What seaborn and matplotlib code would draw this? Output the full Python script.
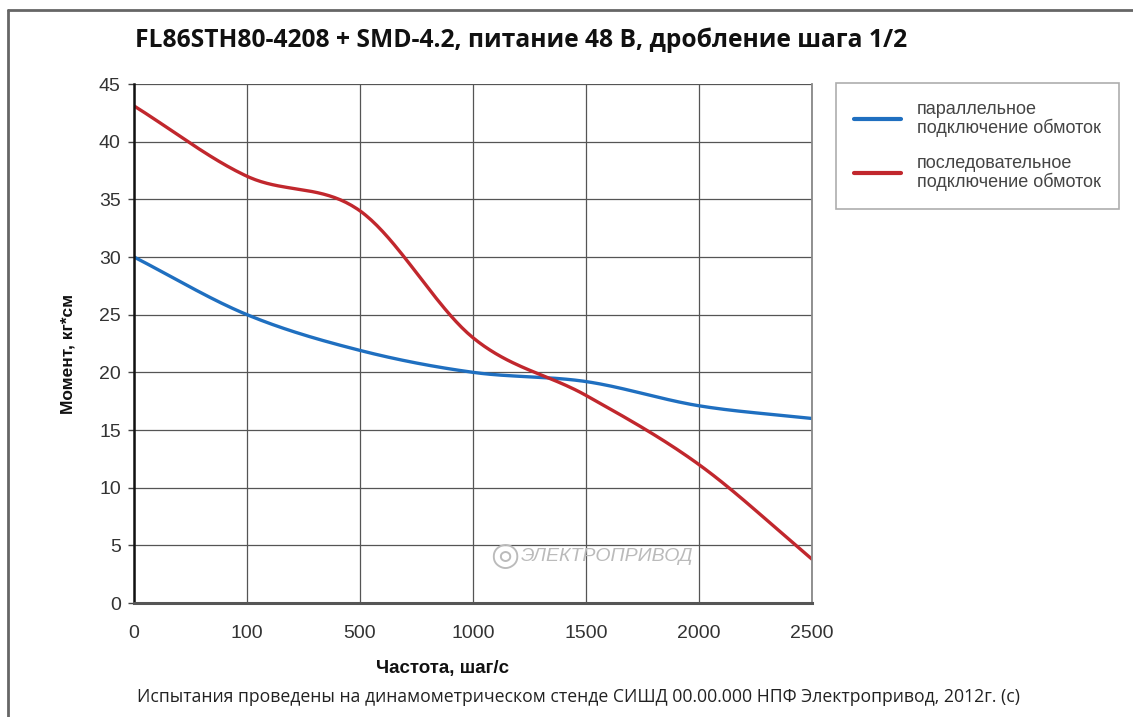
import matplotlib
matplotlib.use('Agg')
import matplotlib.pyplot as plt
from matplotlib.lines import Line2D
import seaborn as sns
import numpy as np
import pandas as pd

# data
freq_labels = ["0", "100", "500", "1000", "1500", "2000", "2500"]
torque_parallel = [30.0, 25.0, 21.9, 20.0, 19.2, 17.1, 16.0]
torque_series = [43.1, 37.0, 34.0, 23.0, 18.0, 12.0, 3.8]
series_names = ["параллельное\nподключение обмоток", "последовательное\nподключение обмоток"]
colors = ["#1f6fc0", "#c1272d"]

sns.set_theme(style="white")
OPEN = ['Open Sans', 'DejaVu Sans']
plt.rcParams['font.family'] = ['Liberation Sans', 'DejaVu Sans']


def smooth(y, n=40):
    # catmull-rom curve through the read points (for drawing only)
    y = np.asarray(y, float)
    p = np.concatenate([[2 * y[0] - y[1]], y, [2 * y[-1] - y[-2]]])
    xs, ys = [], []
    for i in range(len(y) - 1):
        t = np.linspace(0, 1, n, endpoint=False)
        p0, p1, p2, p3 = p[i], p[i + 1], p[i + 2], p[i + 3]
        v = 0.5 * (2 * p1 + (-p0 + p2) * t + (2 * p0 - 5 * p1 + 4 * p2 - p3) * t ** 2
                   + (-p0 + 3 * p1 - 3 * p2 + p3) * t ** 3)
        xs.append(i + t)
        ys.append(v)
    xs.append([len(y) - 1])
    ys.append([y[-1]])
    return np.concatenate(xs), np.concatenate(ys)


rows = []
for name, vals in zip(series_names, [torque_parallel, torque_series]):
    xs, ys = smooth(vals)
    rows.append(pd.DataFrame({"x": xs, "y": ys, "series": name}))
df = pd.concat(rows)

fig = plt.figure(figsize=(11.33, 7.17), dpi=100)
ax = fig.add_axes([134 / 1133, 1 - 603 / 717, 678 / 1133, 519 / 717])

sns.lineplot(data=df, x="x", y="y", hue="series", palette=colors, lw=2.4,
             sort=False, ax=ax, legend=True)

ax.set_xlim(0, len(freq_labels) - 1)
ax.set_ylim(0, 45)
ax.set_xticks(range(len(freq_labels)))
ax.set_xticklabels(freq_labels, fontsize=14, color="#333333")
ax.set_yticks(range(0, 46, 5))
ax.tick_params(axis='y', labelsize=14, labelcolor="#333333", length=4.5, width=1,
               color="#444444", left=True, pad=5)
ax.tick_params(axis='x', length=0, pad=16)
ax.grid(True, color="#555555", lw=0.9)
ax.spines["top"].set_visible(False)
ax.spines["right"].set_color("#888888")
ax.spines["right"].set_linewidth(1.3)
ax.spines["left"].set_color("#111111")
ax.spines["left"].set_linewidth(1.8)
ax.spines["bottom"].set_color("#555555")
ax.spines["bottom"].set_linewidth(2.2)

ax.set_xlabel("Частота, шаг/с", fontsize=13.5, fontweight="bold", color="#111111")
ax.xaxis.set_label_coords((443 - 134) / 678, -(669 - 603) / 519)
ax.xaxis.label.set_va("center")
ax.set_ylabel("Момент, кг*см", fontsize=12.5, fontweight="bold", color="#111111")
ax.yaxis.set_label_coords(-(134 - 68) / 678, (603 - 354) / 519)
ax.yaxis.label.set_va("center")

leg = ax.legend(loc="upper left", bbox_to_anchor=(836 / 1133, 1 - 83 / 717),
                bbox_transform=fig.transFigure, frameon=True, fancybox=False,
                fontsize=13, handlelength=2.6, handletextpad=0.9,
                labelspacing=1.0, borderpad=1.0, borderaxespad=0)
leg.get_frame().set_edgecolor("#999999")
leg.get_frame().set_linewidth(1.2)
for t in leg.get_texts():
    t.set_color("#444444")
    t.set_linespacing(1.05)
for h in leg.get_lines():
    h.set_linewidth(3)

fig.text(135 / 1133, 1 - 40 / 717,
         "FL86STH80-4208 + SMD-4.2, питание 48 В, дробление шага 1/2",
         family=OPEN, fontweight="bold", fontsize=17.7,
         va="center", ha="left", color="#111111")

fig.text(578 / 1133, 1 - 697 / 717,
         "Испытания проведены на динамометрическом стенде СИШД 00.00.000 НПФ Электропривод, 2012г. (c)",
         family=OPEN, fontsize=12.7, ha="center", va="center", color="#222222")

# watermark
ax.text(3.42, 4.0, "ЭЛЕКТРОПРИВОД", fontsize=14, style="italic", color="#bbbbbb",
        ha="left", va="center", zorder=1)
ax.text(3.28, 4.0, "◎", fontsize=24, color="#bbbbbb", ha="center", va="center", zorder=1)

# image frame
fig.add_artist(Line2D([8 / 1133, 8 / 1133], [0, 1 - 10 / 717], color="#666666", lw=2,
                      transform=fig.transFigure))
fig.add_artist(Line2D([8 / 1133, 1], [1 - 10 / 717, 1 - 10 / 717], color="#666666", lw=2,
                      transform=fig.transFigure))

fig.savefig("out.png", dpi=100)
